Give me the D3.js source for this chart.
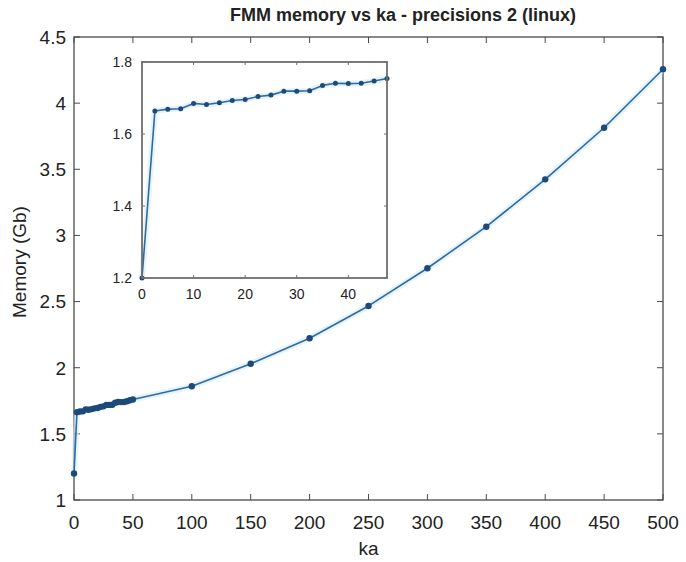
<!DOCTYPE html>
<html>
<head>
<meta charset="utf-8">
<script src="https://cdn.jsdelivr.net/npm/d3@7"></script>
<style>
  html, body { margin: 0; padding: 0; background: #fff; }
  svg text { font-family: "Liberation Sans", Arial, Helvetica, sans-serif; fill: #222; }
</style>
</head>
<body>
<svg id="chart" width="686" height="562"></svg>
<script>
// ---- data ----
const titleText = "FMM memory vs ka - precisions 2 (linux)";
const xLabel = "ka";
const yLabel = "Memory (Gb)";
const ka = [0, 2.5, 5, 7.5, 10, 12.5, 15, 17.5, 20, 22.5, 25, 27.5, 30, 32.5, 35, 37.5, 40, 42.5, 45, 47.5,
            50, 100, 150, 200, 250, 300, 350, 400, 450, 500];
const memory = [1.2, 1.664, 1.669, 1.670, 1.685, 1.682, 1.687, 1.693, 1.696, 1.704, 1.708, 1.719, 1.719, 1.720,
                1.735, 1.741, 1.740, 1.741, 1.747, 1.754,
                1.76, 1.86, 2.03, 2.223, 2.467, 2.752, 3.066, 3.424, 3.814, 4.256];
const mainXTicks = [0, 50, 100, 150, 200, 250, 300, 350, 400, 450, 500];
const mainYTicks = [1, 1.5, 2, 2.5, 3, 3.5, 4, 4.5];
const insetXTicks = [0, 10, 20, 30, 40];
const insetYTicks = [1.2, 1.4, 1.6, 1.8];
const insetMaxKa = 47.5;

const data = ka.map((k, i) => ({ka: k, mem: memory[i]}));
const insetData = data.filter(d => d.ka <= insetMaxKa);

const svg = d3.select("#chart");
const lineColor = "#2f6aa0";
const markColor = "#1d4a78";
const axisColor = "#4a4a4a";

function drawAxes(g, x, y, xt, yt, fs, tickLen, boxColor, boxW, xLabOff, yLabOff) {
  const [x0, x1] = x.range();
  const [y0, y1] = y.range(); // y0 bottom, y1 top
  g.append("g").selectAll("line").data(xt).join("line")
    .attr("x1", d => x(d)).attr("x2", d => x(d))
    .attr("y1", y0).attr("y2", y0 - tickLen)
    .attr("stroke", boxColor).attr("stroke-width", 1);
  g.append("g").selectAll("line").data(xt).join("line")
    .attr("x1", d => x(d)).attr("x2", d => x(d))
    .attr("y1", y1).attr("y2", y1 + tickLen)
    .attr("stroke", boxColor).attr("stroke-width", 1);
  g.append("g").selectAll("line").data(yt).join("line")
    .attr("x1", x0).attr("x2", x0 + tickLen)
    .attr("y1", d => y(d)).attr("y2", d => y(d))
    .attr("stroke", boxColor).attr("stroke-width", 1);
  g.append("g").selectAll("line").data(yt).join("line")
    .attr("x1", x1).attr("x2", x1 - tickLen)
    .attr("y1", d => y(d)).attr("y2", d => y(d))
    .attr("stroke", boxColor).attr("stroke-width", 1);
  g.append("rect").attr("x", x0).attr("y", y1)
    .attr("width", x1 - x0).attr("height", y0 - y1)
    .attr("fill", "none").attr("stroke", boxColor).attr("stroke-width", boxW);
  g.append("g").selectAll("text").data(xt).join("text")
    .attr("x", d => x(d)).attr("y", y0 + xLabOff)
    .attr("text-anchor", "middle").attr("font-size", fs)
    .text(d => d3.format("")(d));
  g.append("g").selectAll("text").data(yt).join("text")
    .attr("x", x0 - yLabOff).attr("y", d => y(d))
    .attr("dy", "0.36em")
    .attr("text-anchor", "end").attr("font-size", fs)
    .text(d => d3.format("")(d));
}

function drawSeries(g, dat, x, y, r) {
  const line = d3.line().x(d => x(d.ka)).y(d => y(d.mem));
  g.append("path").datum(dat).attr("d", line)
    .attr("fill", "none").attr("stroke", "#d4ebf8").attr("stroke-width", 6)
    .attr("stroke-linejoin", "round").attr("opacity", 0.6);
  g.append("path").datum(dat).attr("d", line)
    .attr("fill", "none").attr("stroke", lineColor).attr("stroke-width", 1.6)
    .attr("stroke-linejoin", "round");
  g.append("g").selectAll("circle").data(dat).join("circle")
    .attr("cx", d => x(d.ka)).attr("cy", d => y(d.mem)).attr("r", r)
    .attr("fill", markColor);
}

// ---- main axes ----
const mx = d3.scaleLinear().domain([0, 500]).range([74, 663]);
const my = d3.scaleLinear().domain([1, 4.5]).range([500, 37]);
const mainG = svg.append("g");
drawAxes(mainG, mx, my, mainXTicks, mainYTicks, 19, 6, axisColor, 1.3, 29, 8);
drawSeries(mainG, data, mx, my, 3.2);

// ---- inset axes ----
const ix = d3.scaleLinear().domain([0, insetMaxKa]).range([142, 387]);
const iy = d3.scaleLinear().domain([1.2, 1.8]).range([278, 62]);
const insetG = svg.append("g");
insetG.append("rect").attr("x", 142).attr("y", 62).attr("width", 245).attr("height", 216).attr("fill", "#fff");
drawSeries(insetG, insetData, ix, iy, 2.5);
drawAxes(insetG, ix, iy, insetXTicks, insetYTicks, 14, 3, "#6e6e6e", 1.8, 21, 10);

// ---- labels ----
svg.append("text").attr("x", 403).attr("y", 21)
  .attr("text-anchor", "middle").attr("font-size", 18).attr("font-weight", "bold")
  .text(titleText);
svg.append("text").attr("x", (74 + 663) / 2).attr("y", 555)
  .attr("text-anchor", "middle").attr("font-size", 19)
  .text(xLabel);
svg.append("text").attr("transform", `translate(26, 262) rotate(-90)`)
  .attr("text-anchor", "middle").attr("font-size", 19)
  .text(yLabel);
</script>
</body>
</html>
